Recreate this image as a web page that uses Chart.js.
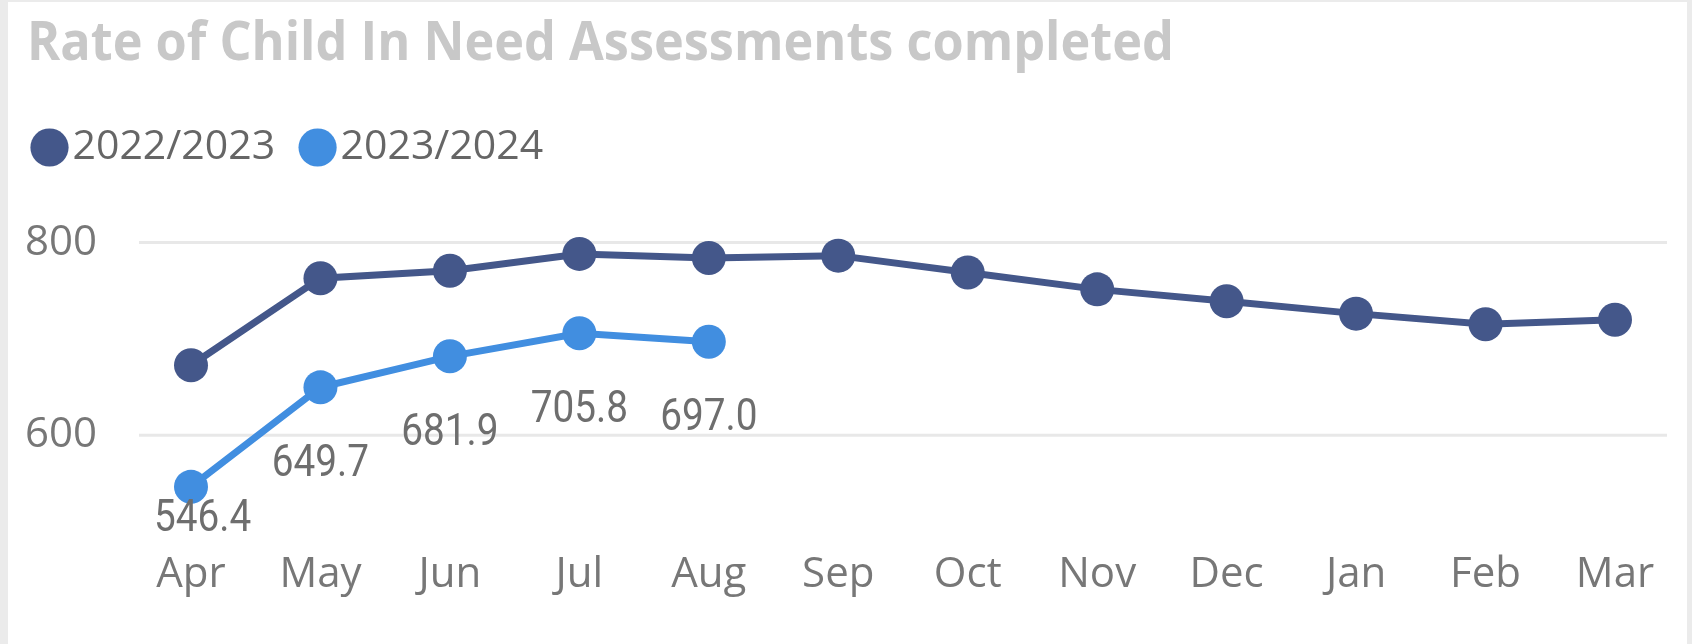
<!DOCTYPE html>
<html>
<head>
<meta charset="utf-8">
<script src="https://cdn.jsdelivr.net/npm/chart.js@4.4.1/dist/chart.umd.min.js"></script>
<style>
  html, body { margin: 0; padding: 0; background: #ebebeb; }
  #wrap { position: relative; width: 1692px; height: 644px; overflow: hidden; }
  #card { position: absolute; left: 8px; top: 2px; right: 5px; bottom: 0; background: #fff; }
  #title {
    position: absolute; left: 27px; top: 12px; margin: 0;
    font: 700 54px 'Open Sans', sans-serif; line-height: 1; color: #c8c8c8;
    white-space: nowrap; transform: scaleX(0.934); transform-origin: left top;
  }
  canvas { position: absolute; left: 0; top: 0; }
</style>
</head>
<body>
<div id="wrap">
  <div id="card"></div>
  <h1 id="title">Rate of Child In Need Assessments completed</h1>
  <canvas id="chart" width="1692" height="644"></canvas>
</div>
<script>
'use strict';

// ── Data ──────────────────────────────────────────────────────
const months   = ['Apr', 'May', 'Jun', 'Jul', 'Aug', 'Sep', 'Oct', 'Nov', 'Dec', 'Jan', 'Feb', 'Mar'];
const rate2223 = [672.6, 763.0, 770.7, 788.2, 784.0, 786.4, 768.9, 751.4, 739.1, 726.2, 715.2, 719.9];
const rate2324 = [546.4, 649.7, 681.9, 705.8, 697.0, null, null, null, null, null, null, null];
const yTicks   = [600, 800];

// ── Theme ─────────────────────────────────────────────────────
const THEME = {
  dark:      '#44578a',
  light:     '#418ee0',
  grid:      '#e8e8e8',
  axisText:  '#777777',
  legendText:'#666666',
  labelText: '#6e6e6e',
  font:      "'Open Sans', sans-serif",
  labelFont: "44px Roboto, sans-serif",
  labelSquash: 0.88,   // data labels use a condensed face in the original
};

// Horizontal gridlines reach a bit past the first/last category
const gridLines = {
  id: 'gridLines',
  beforeDatasetsDraw(chart) {
    const { ctx, chartArea: { left, right }, scales: { y } } = chart;
    ctx.save();
    ctx.strokeStyle = THEME.grid;
    ctx.lineWidth = 3;
    yTicks.forEach(v => {
      const yPos = y.getPixelForValue(v);
      ctx.beginPath();
      ctx.moveTo(left - 52, yPos);
      ctx.lineTo(right + 52, yPos);
      ctx.stroke();
    });
    ctx.restore();
  },
};

// Value labels under the 2023/2024 points
const valueLabels = {
  id: 'valueLabels',
  afterDatasetsDraw(chart) {
    const { ctx, chartArea } = chart;
    const meta = chart.getDatasetMeta(1);
    ctx.save();
    ctx.font = THEME.labelFont;
    ctx.fillStyle = THEME.labelText;
    ctx.textAlign = 'center';
    ctx.textBaseline = 'alphabetic';
    meta.data.forEach((pt, i) => {
      const v = rate2324[i];
      if (v == null) return;
      const txt = v.toFixed(1);
      const w = ctx.measureText(txt).width * THEME.labelSquash;
      const x = Math.max(pt.x, chartArea.left - 37 + w / 2);
      const yMid = Math.min(pt.y + 73, chartArea.bottom - 9);
      ctx.save();
      ctx.translate(x, yMid + 15.5);
      ctx.scale(THEME.labelSquash, 1);
      ctx.fillText(txt, 0, 0);
      ctx.restore();
    });
    ctx.restore();
  },
};

new Chart(document.getElementById('chart'), {
  type: 'line',
  data: {
    labels: months,
    datasets: [
      {
        label: '2022/2023',
        data: rate2223,
        borderColor: THEME.dark,
        backgroundColor: THEME.dark,
        borderWidth: 7,
        pointRadius: 17,
        pointBackgroundColor: THEME.dark,
        pointBorderWidth: 0,
        tension: 0,
      },
      {
        label: '2023/2024',
        data: rate2324,
        borderColor: THEME.light,
        backgroundColor: THEME.light,
        borderWidth: 7,
        pointRadius: 17,
        pointBackgroundColor: THEME.light,
        pointBorderWidth: 0,
        tension: 0,
        spanGaps: false,
      },
    ],
  },
  options: {
    responsive: false,
    animation: false,
    events: [],
    layout: { padding: { top: 87, left: 7, right: 77, bottom: 0 } },
    scales: {
      x: {
        offset: false,
        grid: { display: false, drawTicks: false },
        border: { display: false },
        ticks: {
          color: THEME.axisText,
          font: { size: 42, family: THEME.font },
          padding: 25,
          maxRotation: 0,
          autoSkip: false,
        },
        afterFit(scale) { scale.height = 117; },
      },
      y: {
        min: 507,
        max: 867,
        grid: { display: false, drawTicks: false },
        border: { display: false },
        afterBuildTicks(scale) { scale.ticks = yTicks.map(v => ({ value: v })); },
        ticks: {
          color: THEME.axisText,
          font: { size: 42, family: THEME.font },
          padding: 94,
        },
        afterFit(scale) { scale.width = 184; },
      },
    },
    plugins: {
      title: { display: false },
      tooltip: { enabled: false },
      legend: {
        position: 'top',
        align: 'start',
        labels: {
          usePointStyle: true,
          pointStyle: 'circle',
          boxWidth: 5,
          boxHeight: 27,
          padding: 40,
          color: THEME.legendText,
          font: { size: 41, family: THEME.font },
        },
      },
    },
  },
  plugins: [gridLines, valueLabels],
});
</script>
</body>
</html>
